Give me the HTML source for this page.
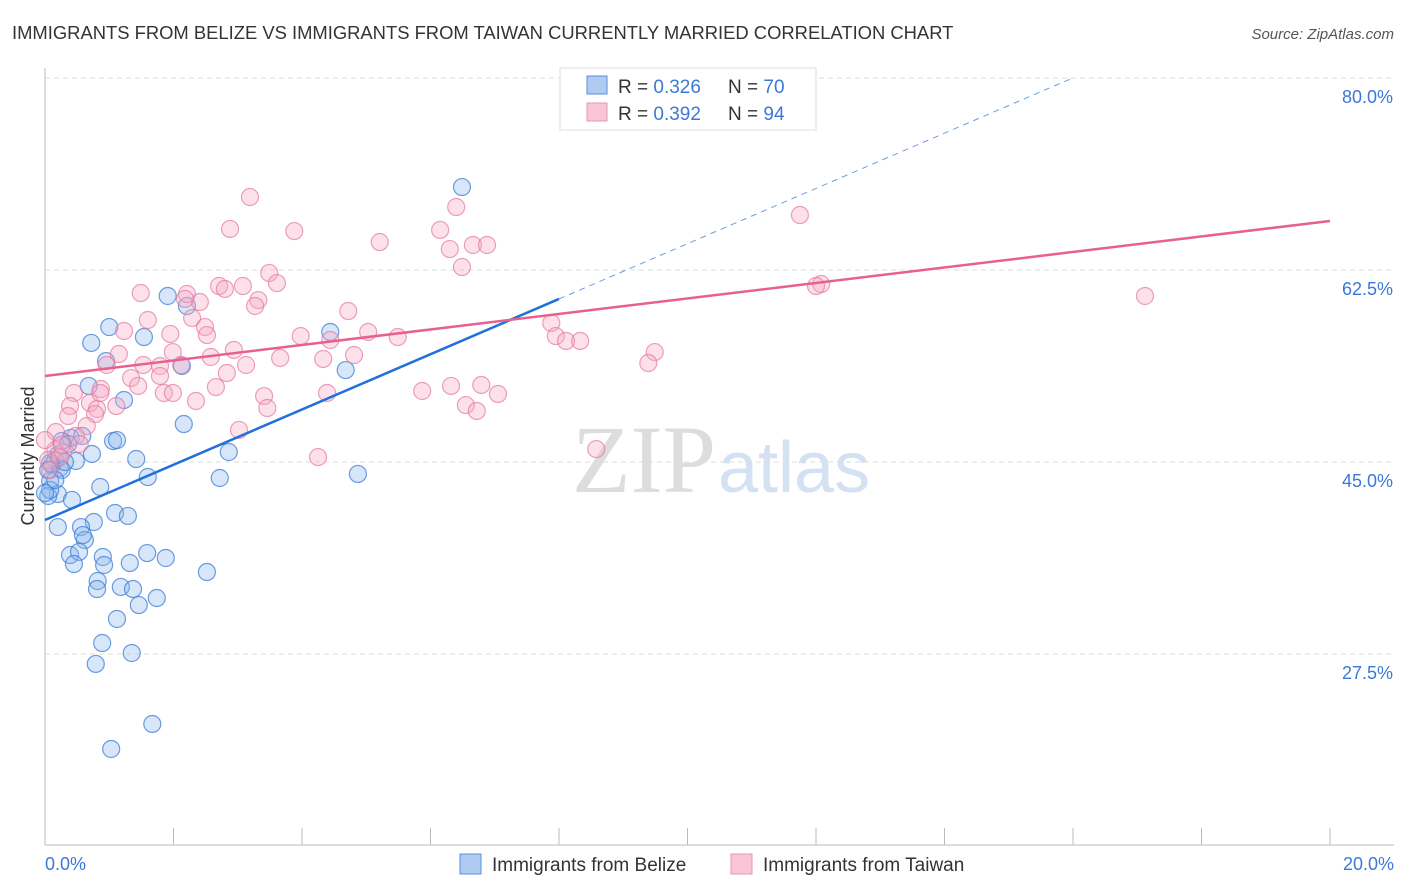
<!DOCTYPE html>
<html><head><meta charset="utf-8"><style>
body{margin:0;background:#fff;font-family:"Liberation Sans",sans-serif;}
svg{display:block}
</style></head><body>
<svg id="chart" width="1406" height="892" xmlns="http://www.w3.org/2000/svg">
<text x="12" y="39" font-size="18.4" fill="#333">IMMIGRANTS FROM BELIZE VS IMMIGRANTS FROM TAIWAN CURRENTLY MARRIED CORRELATION CHART</text>
<text x="1394" y="39" font-size="15" fill="#555" font-style="italic" text-anchor="end">Source: ZipAtlas.com</text>
<text x="716" y="492" font-size="96" fill="#ddd" font-family="Liberation Serif" text-anchor="end">ZIP</text>
<text x="718" y="492" font-size="72" fill="#d3e1f3">atlas</text>
<text transform="translate(34,456) rotate(-90)" font-size="18" fill="#333" text-anchor="middle">Currently Married</text>
<g id="grid"></g><g id="axes"></g><g id="pts"></g><g id="lines"></g>
<g>
<rect x="560" y="68" width="256" height="62" fill="#fff" stroke="#ddd"/>
<rect x="587" y="76" width="20" height="18" fill="#aecbf2" stroke="#5b8fd8"/>
<rect x="587" y="103" width="20" height="18" fill="#f9c6d5" stroke="#e895b0"/>
<text x="618" y="93" font-size="19" fill="#333">R = <tspan fill="#3b78d8">0.326</tspan></text>
<text x="728" y="93" font-size="19" fill="#333">N = <tspan fill="#3b78d8">70</tspan></text>
<text x="618" y="120" font-size="19" fill="#333">R = <tspan fill="#3b78d8">0.392</tspan></text>
<text x="728" y="120" font-size="19" fill="#333">N = <tspan fill="#3b78d8">94</tspan></text>
</g>
<g>
<rect x="460" y="854" width="21" height="20" fill="#aecbf2" stroke="#5b8fd8"/>
<text x="492" y="871" font-size="19" fill="#333">Immigrants from Belize</text>
<rect x="731" y="854" width="21" height="20" fill="#f9c6d5" stroke="#e895b0"/>
<text x="763" y="871" font-size="19" fill="#333">Immigrants from Taiwan</text>
</g>
</svg>
<script>
const yTicks=[80,62.5,45,27.5];
const yTickLabels=["80.0%","62.5%","45.0%","27.5%"];
const xTickLabels=["0.0%","20.0%"];
const belizeX=[6.49,1.91,2.21,1.00,1.54,4.44,0.72,0.95,2.13,4.68,0.68,1.23,2.16,1.06,0.40,1.12,0.58,0.36,0.73,0.48,1.42,2.86,0.16,0.11,0.23,0.26,1.60,2.72,4.87,0.08,0.86,0.20,0.05,0.42,1.09,1.29,0.76,0.20,0.56,0.62,0.59,0.39,0.53,0.90,1.59,1.88,0.45,0.92,1.32,2.52,0.82,0.81,1.18,1.37,1.74,1.46,1.12,0.89,1.35,0.79,1.67,1.03,0.08,0.16,0.00,0.20,0.31,0.08,0.26,0.05];
const belizeY=[70.06,60.13,59.22,57.30,56.39,56.85,55.85,54.20,53.75,53.38,51.93,50.65,48.46,46.91,47.19,47.0,47.37,46.64,45.73,45.09,45.27,45.91,45.18,44.73,44.45,44.27,43.63,43.54,43.91,43.27,42.72,42.08,41.90,41.54,40.35,40.08,39.53,39.07,39.07,37.89,38.34,36.52,36.80,36.34,36.70,36.25,35.70,35.61,35.79,34.97,34.15,33.42,33.61,33.42,32.60,31.96,30.69,28.50,27.59,26.59,21.12,18.84,42.45,43.36,42.17,45.64,45.00,44.91,46.91,44.27];
const taiwanX=[3.19,6.40,2.88,3.88,6.15,11.75,5.21,6.66,6.88,6.30,6.49,3.49,3.61,2.71,3.08,2.80,1.49,2.21,2.41,3.32,3.27,2.18,12.08,12.00,17.12,4.72,2.29,1.60,2.49,1.23,2.52,3.98,5.03,5.49,4.44,1.95,7.88,7.95,8.11,8.33,2.94,9.49,1.15,1.99,2.58,3.66,4.33,4.81,9.39,0.96,1.53,1.79,2.12,3.13,1.34,1.79,2.83,1.45,0.87,0.45,1.85,1.99,2.66,3.41,4.39,5.87,6.32,6.79,7.05,0.70,1.11,2.35,3.46,6.55,6.72,0.39,0.36,0.81,0.78,3.02,0.65,0.17,0.48,0.16,0.28,4.25,8.58,0.05,0.23,0.08,0.00,0.26,0.54,0.86];
const taiwanY=[69.15,68.24,66.24,66.05,66.15,67.51,65.05,64.78,64.78,64.41,62.77,62.23,61.31,61.04,61.04,60.77,60.40,60.31,59.58,59.76,59.22,59.86,61.22,61.04,60.13,58.76,58.12,57.94,57.30,56.94,56.57,56.48,56.85,56.39,56.12,56.67,57.67,56.48,56.03,56.03,55.21,55.02,54.84,55.02,54.57,54.48,54.39,54.75,54.02,53.84,53.84,53.75,53.84,53.84,52.65,52.84,53.11,51.93,51.65,51.29,51.29,51.29,51.83,51.01,51.29,51.47,51.93,52.02,51.20,50.38,50.10,50.56,49.92,50.19,49.65,50.10,49.19,49.83,49.37,47.92,48.28,47.73,47.37,46.09,45.91,45.45,46.18,45.18,45.45,44.27,47.0,46.55,46.64,51.29];
const belizeTrend=[39.71,59.86];   // y at x=0 and x=8
const taiwanTrend=[52.84,66.97];   // y at x=0 and x=20

const X0=45,X1=1330,xmax=20;
const sx=v=>X0+v/xmax*(X1-X0);
const sy=v=>78+(80-v)*10.971;
const NS="http://www.w3.org/2000/svg";
function mk(p,tag,at){const e=document.createElementNS(NS,tag);for(const k in at)e.setAttribute(k,at[k]);p.appendChild(e);return e;}
const grid=document.getElementById('grid'),axes=document.getElementById('axes'),pts=document.getElementById('pts'),lines=document.getElementById('lines');
yTicks.forEach((t,i)=>{
  const g=mk(grid,'line',{x1:X0,x2:1394,y1:sy(t),y2:sy(t),stroke:'#ddd','stroke-dasharray':'5,4'});
  
  
  const l=mk(grid,'text',{x:1393,y:sy(t)+25,'font-size':18,fill:'#3b78d8','text-anchor':'end'});
  l.textContent=yTickLabels[i];
  
  
});
const ay=mk(axes,'line',{x1:X0,x2:X0,y1:68,y2:845,stroke:'#bbb'});


const ax=mk(axes,'line',{x1:X0,x2:1394,y1:845,y2:845,stroke:'#bbb'});


for(let i=0;i<=10;i++){
  const t=mk(axes,'line',{x1:sx(i*2),x2:sx(i*2),y1:828,y2:845,stroke:'#bbb'});
  
  
}
[[0,'start',45],[20,'end',1394]].forEach((d,i)=>{
  const l=mk(axes,'text',{x:d[2],y:870,'font-size':18,fill:'#3b78d8','text-anchor':d[1]});
  l.textContent=xTickLabels[i];
  
  
});
function dots(xs,ys,fill,stroke,name){
  xs.forEach((x,i)=>{
    const c=mk(pts,'circle',{cx:sx(x),cy:sy(ys[i]),r:8.5,fill:fill,stroke:stroke,'stroke-width':1.2});
    
    
  });
}
dots(belizeX,belizeY,'rgba(140,182,238,0.35)','rgba(60,125,215,0.75)','belize-point');
dots(taiwanX,taiwanY,'rgba(246,170,195,0.35)','rgba(230,120,160,0.7)','taiwan-point');
const bs=(belizeTrend[1]-belizeTrend[0])/8;
const bEnd=(80-belizeTrend[0])/bs;
const l1=mk(lines,'line',{x1:sx(0),y1:sy(belizeTrend[0]),x2:sx(8),y2:sy(belizeTrend[1]),stroke:'#2170d8','stroke-width':2.5});


const l2=mk(lines,'line',{x1:sx(8),y1:sy(belizeTrend[1]),x2:sx(bEnd),y2:sy(80),stroke:'#6a9ee0','stroke-width':1,'stroke-dasharray':'6,5'});


const l3=mk(lines,'line',{x1:sx(0),y1:sy(taiwanTrend[0]),x2:sx(20),y2:sy(taiwanTrend[1]),stroke:'#e8608f','stroke-width':2.5});


</script>
</body></html>
